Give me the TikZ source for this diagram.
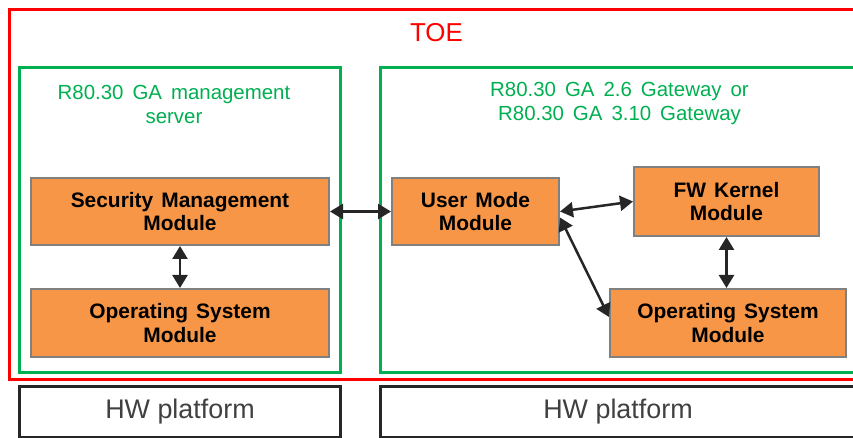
\documentclass[tikz,border=0pt]{standalone}
\usepackage{fontspec}
\setmainfont{Liberation Sans}
\usetikzlibrary{arrows.meta}

\definecolor{toered}{RGB}{255,0,0}
\definecolor{zonegreen}{RGB}{0,176,80}
\definecolor{modfill}{RGB}{247,150,70}
\definecolor{modline}{RGB}{128,128,128}
\definecolor{arrowgray}{RGB}{38,38,38}
\definecolor{hwtext}{RGB}{64,64,64}

\newcommand\modfont{\fontsize{21}{23.5}\selectfont\bfseries\spaceskip=8bp\relax}
\newcommand\zonefont{\fontsize{20.5}{23.5}\selectfont\spaceskip=9bp\relax}

\begin{document}
\begin{tikzpicture}[x=1bp,y=-1bp,
  module/.style={draw=modline, line width=2bp, fill=modfill, align=center, inner sep=0pt,
    font=\modfont},
  zone/.style={draw=zonegreen, line width=3bp, inner sep=0pt},
  zonetitle/.style={text=zonegreen, align=center, inner sep=0pt, anchor=north,
    font=\zonefont},
  hwbox/.style={draw=arrowgray, line width=3bp, inner sep=0pt, text=hwtext,
    font=\fontsize{27}{30}\selectfont},
  link/.style={{Triangle[length=13bp,width=15bp]}-{Triangle[length=13bp,width=15bp]},
    line width=2.5bp, draw=arrowgray}]

\useasboundingbox (0,0) rectangle (853,438);
\clip (0,0) rectangle (853,438);

% TOE
\draw [toered, line width=3bp] (9,10) rectangle (875,380);
\node [text=toered, anchor=base, inner sep=0pt, font=\fontsize{26}{30}\selectfont] (toe) at (436.5,42) {TOE};

% zones
\node [zone, minimum width=320bp, minimum height=304bp] (mgmt) at (180,220) {};
\node [zone, minimum width=479bp, minimum height=304bp] (gw) at (619.5,220) {};
\node [zonetitle] (mgmttitle) at (174,85.5) {R80.30 GA management\\server};
\node [zonetitle] (gwtitle) at (619.5,82.5) {R80.30 GA 2.6 Gateway or\\R80.30 GA 3.10 Gateway};

% modules
\node [module, minimum width=298bp, minimum height=67bp] (smm) at (180,211.5) {Security Management\\Module};
\node [module, minimum width=298bp, minimum height=68bp] (osl) at (180,323) {Operating System\\Module};
\node [module, minimum width=167bp, minimum height=67bp] (umm) at (475.5,211.5) {User Mode\\Module};
\node [module, minimum width=185bp, minimum height=69bp] (fwk) at (726.5,201.5) {FW Kernel\\Module};
\node [module, minimum width=236bp, minimum height=68bp] (osr) at (728,323) {Operating System\\Module};

% links
\draw [link] (smm) -- (umm);
\draw [link] (smm) -- (osl);
\draw [link] (umm.east) -- (fwk.west);
\draw [link] ([yshift=-6bp]umm.east) -- ([yshift=6bp]osr.west);
\draw [link] (fwk.south) -- (fwk.south |- osr.north);

% hardware
\node [hwbox, minimum width=320bp, minimum height=50bp] (hwl) at (180,412) {HW platform};
\node [hwbox, minimum width=476bp, minimum height=50bp] (hwr) at (618,412) {HW platform};
\end{tikzpicture}
\end{document}
